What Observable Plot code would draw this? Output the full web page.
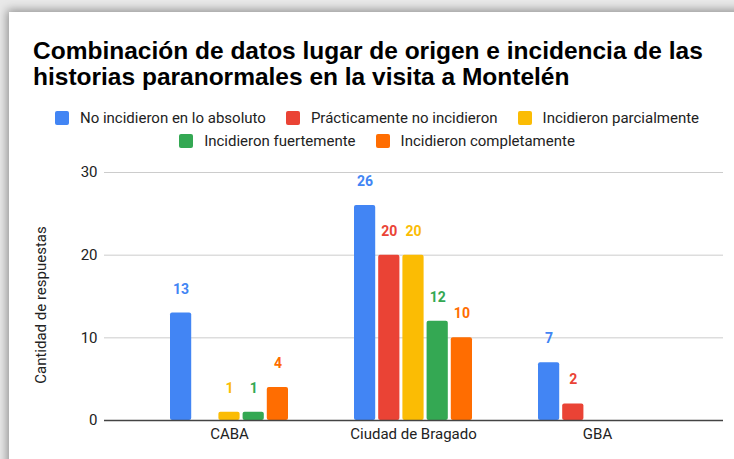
<!DOCTYPE html>
<html>
<head>
<meta charset="utf-8">
<script src="https://cdn.jsdelivr.net/npm/d3@7"></script>
<script src="https://cdn.jsdelivr.net/npm/@observablehq/plot@0.6"></script>
<style>
  html, body { margin: 0; padding: 0; width: 734px; height: 459px; overflow: hidden; background: #e9e9e9; }
  #card { position: absolute; left: 9px; top: 12px; width: 760px; height: 480px; background: #fff;
          box-shadow: 0 0 9px 2px rgba(0,0,0,0.38); }
  #title { position: absolute; left: 33px; top: 38px; font: bold 24.5px "Liberation Sans", Arial, sans-serif;
           line-height: 26px; color: #000; white-space: nowrap; }
  .legrow { position: absolute; left: 0; width: 754px; display: flex; justify-content: center;
            font: 15px Roboto, sans-serif; color: #222; white-space: nowrap; line-height: 18px; }
  .item { display: flex; align-items: center; margin: 0 10px; }
  .sw { width: 14px; height: 14px; border-radius: 2px; margin-right: 11px; }
  #chart { position: absolute; left: 0; top: 160px; }
  #ylabel { position: absolute; left: 41px; top: 305px; font: 15px Roboto, sans-serif; color: #222;
            white-space: nowrap; transform: translate(-50%, -50%) rotate(-90deg); }
</style>
</head>
<body>
<div id="card"></div>
<div id="title">Combinación de datos lugar de origen e incidencia de las<br>historias paranormales en la visita a Montelén</div>
<div id="leg1" class="legrow" style="top:109px"></div>
<div id="leg2" class="legrow" style="top:132px"></div>
<div id="chart"></div>
<div id="ylabel"></div>
<script>
// ---- data ----
const groups = ["CABA", "Ciudad de Bragado", "GBA"];
const seriesNames = [
  "No incidieron en lo absoluto",
  "Prácticamente no incidieron",
  "Incidieron parcialmente",
  "Incidieron fuertemente",
  "Incidieron completamente"
];
const noIncidieron   = [13, 26, 7];
const practicamente  = [0, 20, 2];
const parcialmente   = [1, 20, 0];
const fuertemente    = [1, 12, 0];
const completamente  = [4, 10, 0];
const colors = ["#4285F4", "#EA4335", "#FBBC04", "#34A853", "#FF6D01"];
const yTicks = [0, 10, 20, 30];
const yLabel = "Cantidad de respuestas";

const valuesBySeries = [noIncidieron, practicamente, parcialmente, fuertemente, completamente];

document.getElementById("ylabel").textContent = yLabel;

// ---- legend ----
function addLegend(el, idxs) {
  for (const i of idxs) {
    const it = document.createElement("div"); it.className = "item";
    const sw = document.createElement("div"); sw.className = "sw"; sw.style.background = colors[i];
    const tx = document.createElement("span"); tx.textContent = seriesNames[i];
    it.appendChild(sw); it.appendChild(tx); el.appendChild(it);
  }
}
addLegend(document.getElementById("leg1"), [0, 1, 2]);
addLegend(document.getElementById("leg2"), [3, 4]);

// ---- chart ----
const W = 734, H = 299, ml = 104, mr = 11, mt = 12, mb = 39;
const pad = 0.346;
const step = (W - ml - mr) / (groups.length + pad);
const bw = step * (1 - pad);
const slot = bw / seriesNames.length;

const marks = [
  Plot.ruleY(yTicks.filter(d => d > 0), {stroke: "#cccccc", strokeWidth: 1}),
  Plot.axisX({fontSize: 15, tickSize: 0, tickPadding: 8, label: null, fill: "#222"}),
  Plot.axisY({ticks: yTicks, fontSize: 15, tickSize: 0, tickPadding: 7, label: null, fill: "#222"})
];
valuesBySeries.forEach((vals, i) => {
  const rows = groups.map((g, k) => ({group: g, value: vals[k]})).filter(d => d.value > 0);
  marks.push(Plot.barY(rows, {
    x: "group", y: "value", fill: colors[i], rx: 2,
    insetLeft: i * slot + 1, insetRight: (seriesNames.length - 1 - i) * slot + 1
  }));
  marks.push(Plot.text(rows, {
    x: "group", y: "value", text: d => String(d.value), fill: colors[i],
    dx: (i - (seriesNames.length - 1) / 2) * slot, dy: -24, lineAnchor: "middle",
    fontWeight: "bold", fontSize: 14
  }));
});
marks.push(Plot.ruleY([0], {stroke: "#444", strokeWidth: 1.3}));

const chart = Plot.plot({
  width: W, height: H,
  marginLeft: ml, marginRight: mr, marginTop: mt, marginBottom: mb,
  style: {fontFamily: "Roboto, sans-serif", fontSize: "15px", color: "#222", background: "transparent"},
  x: {domain: groups, padding: pad},
  y: {domain: [0, 30]},
  marks
});
document.getElementById("chart").appendChild(chart);
</script>
</body>
</html>
